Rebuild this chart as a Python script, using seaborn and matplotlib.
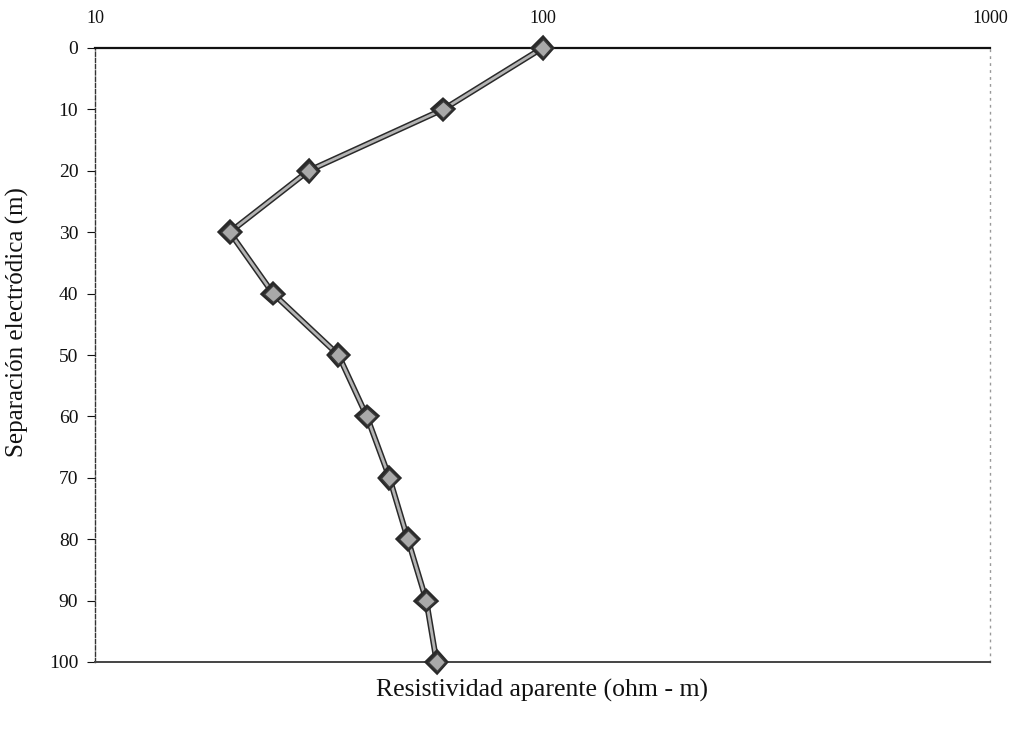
import numpy as np
import pandas as pd
import matplotlib
matplotlib.use("Agg")
import matplotlib.pyplot as plt
import matplotlib.patheffects as pe
import seaborn as sns

# Data
separacion = [0, 10, 20, 30, 40, 50, 60, 70, 80, 90, 100]
resistividad = [100, 60, 30, 20, 25, 35, 40.5, 45.5, 50, 55, 58]
x_ticks = [10, 100, 1000]
x_tick_labels = ["10", "100", "1000"]
y_ticks = [0, 10, 20, 30, 40, 50, 60, 70, 80, 90, 100]

df = pd.DataFrame({"sep": separacion, "res": resistividad})

sns.set_theme(style="white")
plt.rcParams["font.family"] = ["Liberation Serif", "DejaVu Serif"]

fig = plt.figure(figsize=(10.14, 7.33), dpi=100)
ax = fig.add_axes([95/1014, 1 - 662/733, (990-95)/1014, (662-48)/733])

sns.lineplot(data=df, x="res", y="sep", sort=False, ax=ax, color="#b4b4b4",
             linewidth=2.0, marker="D", markersize=9, markerfacecolor="#a9a9a9",
             markeredgecolor="#3a3a3a", markeredgewidth=1.0, zorder=5, clip_on=False,
             path_effects=[pe.Stroke(linewidth=4.2, foreground="#2a2a2a"), pe.Normal()])

ax.set_xscale("log")
ax.set_xlim(10, 1000)
ax.set_ylim(100, 0)
ax.set_xticks(x_ticks)
ax.set_xticklabels(x_tick_labels)
ax.minorticks_off()
ax.set_yticks(y_ticks)

ax.xaxis.tick_top()
ax.xaxis.set_label_position("bottom")
ax.tick_params(axis="x", which="both", length=0, pad=15, labelsize=13, colors="#111111")
ax.tick_params(axis="y", length=6, width=0.8, direction="out", left=True, pad=6,
               labelsize=14, colors="#111111")

ax.set_xlabel("Resistividad aparente (ohm - m)", fontsize=18.5, labelpad=12, color="#111111")
ax.set_ylabel("Separación electródica (m)", fontsize=18, color="#111111")
ax.yaxis.set_label_coords(-0.074, 0.554)

ax.spines["top"].set_color("#111111")
ax.spines["top"].set_linewidth(1.6)
ax.spines["left"].set_color("#333333")
ax.spines["left"].set_linestyle((0, (3, 1.5)))
ax.spines["left"].set_linewidth(1.0)
ax.spines["bottom"].set_color("#444444")
ax.spines["bottom"].set_linestyle((0, (6, 1)))
ax.spines["bottom"].set_linewidth(1.4)
ax.spines["right"].set_color("#999999")
ax.spines["right"].set_linestyle((0, (1, 4)))
ax.spines["right"].set_linewidth(1.0)

ax.grid(False)
fig.savefig("out.png", dpi=100)
